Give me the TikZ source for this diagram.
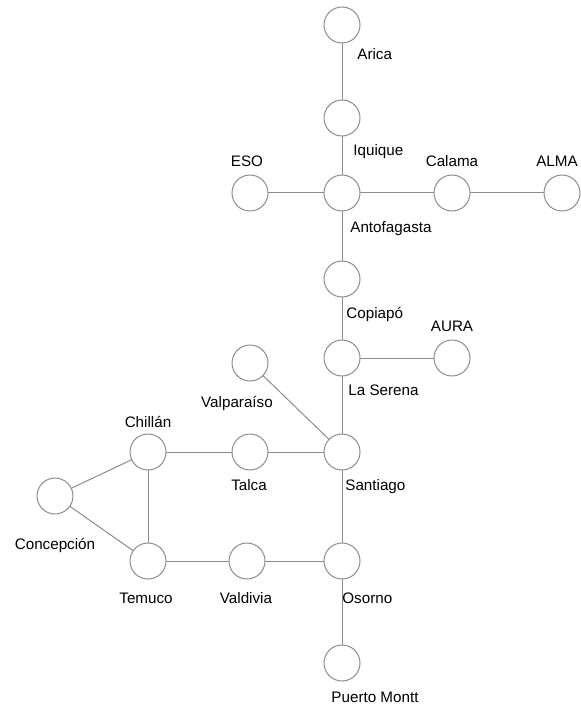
\documentclass[tikz,border=0pt]{standalone}
\usepackage{fontspec}
\setmainfont{Liberation Sans}
\usetikzlibrary{positioning}
\definecolor{linegray}{rgb}{0.55,0.55,0.55}
\tikzset{
  city/.style={circle,draw=linegray,line width=0.5pt,fill=white,minimum size=18pt,inner sep=0pt},
  cityname/.style={inner sep=0pt,text height=1.5ex,text depth=0pt,font=\fontsize{7.6}{9}\selectfont}
}

\begin{document}
\begin{tikzpicture}[line cap=round,line join=round,x=0.5pt,y=-0.5pt]
\useasboundingbox (0,0) rectangle (581,705);
% stations
\foreach \n/\x/\y in {arica/342/25,iquique/342/118,antofagasta/342/193,eso/250/193,calama/452/193,alma/562/193,
  copiapo/342/279,laserena/342/358,aura/452/358,valparaiso/250/363,santiago/342/452,chillan/148/452,
  talca/250/452,concepcion/55/496,temuco/148/561,valdivia/247/561,osorno/342/561,puertomontt/342/663}
\node[city] (\n) at (\x,\y) {};
% links
\foreach \a/\b in {arica/iquique,iquique/antofagasta,eso/antofagasta,antofagasta/calama,calama/alma,
  antofagasta/copiapo,copiapo/laserena,laserena/aura,laserena/santiago,valparaiso/santiago,
  talca/santiago,chillan/talca,chillan/concepcion,chillan/temuco,concepcion/temuco,
  temuco/valdivia,valdivia/osorno,santiago/osorno,osorno/puertomontt}
\draw[linegray,line width=0.5pt] (\a) -- (\b);
% names
\node[cityname,anchor=west] (arica-l) at (357,52) {Arica};
\node[cityname,anchor=west] (iquique-l) at (353,148) {Iquique};
\node[cityname,anchor=west] (antofagasta-l) at (350,225) {Antofagasta};
\node[cityname,anchor=west] (copiapo-l) at (346,311) {Copiapó};
\node[cityname,anchor=west] (laserena-l) at (348,388) {La Serena};
\node[cityname,anchor=west] (santiago-l) at (345,483) {Santiago};
\node[cityname,anchor=west] (osorno-l) at (342,596) {Osorno};
\node[cityname] (eso-l) at (247,159) {ESO};
\node[cityname] (calama-l) at (452,159) {Calama};
\node[cityname] (alma-l) at (557,159) {ALMA};
\node[cityname] (aura-l) at (452,324) {AURA};
\node[cityname] (valparaiso-l) at (237,400) {Valparaíso};
\node[cityname] (chillan-l) at (148,420) {Chillán};
\node[cityname] (talca-l) at (249,483) {Talca};
\node[cityname] (concepcion-l) at (55,542) {Concepción};
\node[cityname] (temuco-l) at (146,596) {Temuco};
\node[cityname] (valdivia-l) at (246,596) {Valdivia};
\node[cityname] (puertomontt-l) at (375,695) {Puerto Montt};
\end{tikzpicture}
\end{document}
